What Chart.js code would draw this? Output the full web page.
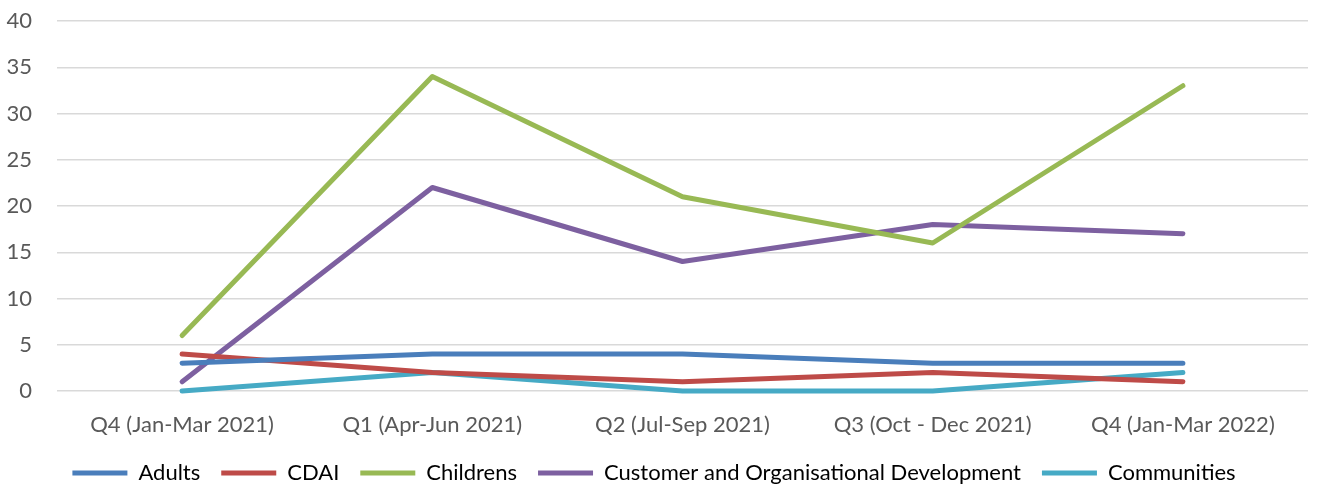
<!DOCTYPE html>
<html>
<head>
<meta charset="utf-8">
<script src="https://cdn.jsdelivr.net/npm/chart.js@4/dist/chart.umd.min.js"></script>
<style>
  html, body { margin: 0; padding: 0; background: #fff; }
  #wrap { width: 1317px; height: 488px; }
</style>
</head>
<body>
<div id="wrap"><canvas id="myChart" width="1317" height="488"></canvas></div>
<script>
// quarters on the x axis
const quarters = ['Q4 (Jan-Mar 2021)', 'Q1 (Apr-Jun 2021)', 'Q2 (Jul-Sep 2021)', 'Q3 (Oct - Dec 2021)', 'Q4 (Jan-Mar 2022)'];

// counts per directorate
const adults = [3, 4, 4, 3, 3];
const cdai = [4, 2, 1, 2, 1];
const childrens = [6, 34, 21, 16, 33];
const customerOrgDev = [1, 22, 14, 18, 17];
const communities = [0, 2, 0, 0, 2];

const yMax = 40;
const yStep = 5;

const textFont = { family: 'Lato', size: 22 };
const textColor = '#595959';

function series(label, data, color) {
    return {
        label: label,
        data: data,
        borderColor: color,
        backgroundColor: color,
        borderWidth: 5,
        borderCapStyle: 'round',
        borderJoinStyle: 'round',
        pointRadius: 0,
        pointHoverRadius: 0,
        tension: 0,
        clip: false,
        fill: false
    };
}

const ctx = document.getElementById('myChart').getContext('2d');
new Chart(ctx, {
    type: 'line',
    data: {
        labels: quarters,
        datasets: [
            series('Adults', adults, '#4a7ebb'),
            series('CDAI', cdai, '#be4b48'),
            series('Childrens', childrens, '#98b954'),
            series('Customer and Organisational Development', customerOrgDev, '#7d60a0'),
            series('Communities', communities, '#46aac5')
        ]
    },
    options: {
        responsive: false,
        animation: false,
        layout: { padding: { left: 0, right: 9, top: 0, bottom: -6 } },
        plugins: {
            tooltip: { enabled: false },
            legend: {
                position: 'bottom',
                labels: {
                    font: textFont,
                    color: textColor,
                    boxWidth: 55,
                    boxHeight: 5,
                    padding: 21,
                    generateLabels: function(chart) {
                        return chart.data.datasets.map((ds, i) => ({
                            text: ds.label,
                            fillStyle: ds.borderColor,
                            strokeStyle: ds.borderColor,
                            lineWidth: 0,
                            datasetIndex: i
                        }));
                    }
                }
            }
        },
        scales: {
            x: {
                offset: true,
                grid: { display: false },
                border: { display: false },
                afterFit: function(scale) { scale.height = 50; },
                ticks: {
                    color: textColor,
                    font: textFont,
                    maxRotation: 0,
                    padding: 13
                }
            },
            y: {
                min: 0,
                max: yMax,
                afterFit: function(scale) {
                    // keep the label gap from pushing the plot top down
                    scale.width = 57;
                    scale.paddingTop = 21;
                    scale.paddingBottom = 0;
                },
                grid: { color: '#d9d9d9', lineWidth: 1.5, drawTicks: false },
                border: { display: false },
                ticks: {
                    stepSize: yStep,
                    color: textColor,
                    font: textFont,
                    padding: 25
                }
            }
        }
    }
});
</script>
</body>
</html>
